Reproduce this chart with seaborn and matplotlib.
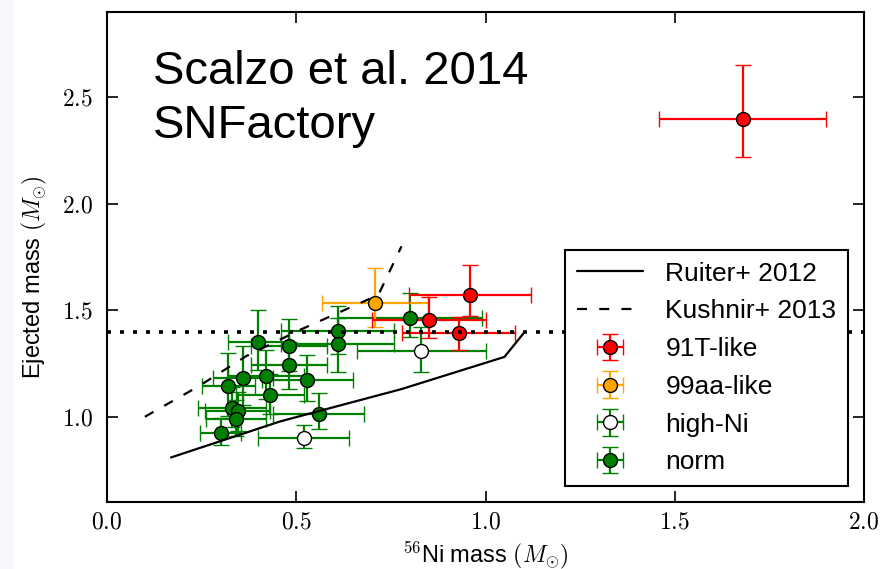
import matplotlib
matplotlib.use("Agg")
import matplotlib.pyplot as plt
import seaborn as sns
from matplotlib.ticker import FixedLocator, FuncFormatter
from matplotlib.patches import Rectangle

# ---- data -------------------------------------------------------------
# 91T-like
t91_x = [0.959, 0.850, 0.929, 1.679]
t91_y = [1.573, 1.453, 1.392, 2.400]
t91_xerr = [0.160, 0.150, 0.150, 0.220]
t91_yerr_lo = [0.100, 0.085, 0.080, 0.180]
t91_yerr_hi = [0.140, 0.110, 0.075, 0.250]

# 99aa-like
aa_x = [0.709]
aa_y = [1.533]
aa_xerr = [0.140]
aa_yerr_lo = [0.113]
aa_yerr_hi = [0.167]

# high-Ni
hn_x = [0.520, 0.830]
hn_y = [0.900, 1.311]
hn_xerr = [0.120, 0.170]
hn_yerr_lo = [0.047, 0.100]
hn_yerr_hi = [0.060, 0.110]

# normal
nm_x = [0.400, 0.480, 0.609, 0.609, 0.480, 0.359, 0.420, 0.320,
        0.529, 0.431, 0.331, 0.345, 0.341, 0.559, 0.300, 0.800]
nm_y = [1.350, 1.333, 1.403, 1.342, 1.242, 1.183, 1.192, 1.144,
        1.172, 1.103, 1.041, 1.025, 0.991, 1.013, 0.924, 1.463]
nm_xerr = [0.080, 0.100, 0.150, 0.150, 0.100, 0.080, 0.100, 0.070,
           0.120, 0.090, 0.090, 0.085, 0.080, 0.120, 0.055, 0.190]
nm_yerr_lo = [0.130, 0.120, 0.110, 0.130, 0.110, 0.130, 0.110, 0.140,
              0.100, 0.090, 0.090, 0.090, 0.080, 0.070, 0.055, 0.090]
nm_yerr_hi = [0.150, 0.127, 0.117, 0.120, 0.110, 0.147, 0.120, 0.157,
              0.118, 0.100, 0.100, 0.090, 0.090, 0.100, 0.070, 0.120]

# model curves
ruiter_x = [0.169, 0.457, 0.778, 1.050, 1.102]
ruiter_y = [0.809, 0.978, 1.130, 1.281, 1.395]
kushnir_x = [0.100, 0.241, 0.369, 0.510, 0.717, 0.778]
kushnir_y = [1.000, 1.142, 1.286, 1.408, 1.572, 1.800]

chandra = 1.4

x_ticks = [0.0, 0.5, 1.0, 1.5, 2.0]
y_ticks = [1.0, 1.5, 2.0, 2.5]

# ---- style ------------------------------------------------------------
sns.set_theme(style="white")
plt.rcParams["font.family"] = ["Liberation Sans", "DejaVu Sans"]
plt.rcParams["mathtext.fontset"] = "cm"
plt.rcParams["text.color"] = "black"
plt.rcParams["axes.labelcolor"] = "black"

fig = plt.figure(figsize=(8.91, 5.69), dpi=100)
fig.patch.set_facecolor("white")
fig.patches.append(Rectangle((0, 0), 14 / 891, 1, transform=fig.transFigure,
                             facecolor="#f6f7fb", edgecolor="none", zorder=-5))
ax = fig.add_axes([107 / 891, 67 / 569, 757 / 891, 490 / 569])
ax.set_facecolor("white")

common = dict(fmt="o", ms=10, mec="black", mew=1.0, elinewidth=1.6,
              capsize=5.5, capthick=1.6, zorder=3)

h_nm = ax.errorbar(nm_x, nm_y, xerr=nm_xerr, yerr=[nm_yerr_lo, nm_yerr_hi],
                   color="green", mfc="green", label="norm", **common)
h_hn = ax.errorbar(hn_x, hn_y, xerr=hn_xerr, yerr=[hn_yerr_lo, hn_yerr_hi],
                   color="green", mfc="white", label="high-Ni", **common)
h_aa = ax.errorbar(aa_x, aa_y, xerr=aa_xerr, yerr=[aa_yerr_lo, aa_yerr_hi],
                   color="orange", mfc="orange", label="99aa-like", **common)
h_91 = ax.errorbar(t91_x, t91_y, xerr=t91_xerr, yerr=[t91_yerr_lo, t91_yerr_hi],
                   color="red", mfc="red", label="91T-like", **common)

sns.lineplot(x=ruiter_x, y=ruiter_y, sort=False, estimator=None, color="black",
             lw=1.6, ax=ax, zorder=4)
sns.lineplot(x=kushnir_x, y=kushnir_y, sort=False, estimator=None, color="black",
             lw=1.6, ax=ax, zorder=4)
lines = ax.get_lines()
l_ruiter = lines[-2]
l_kushnir = lines[-1]
l_kushnir.set_dashes((4.5, 5.5))

ax.axhline(chandra, color="black", lw=2.6, dashes=(1.1, 2.5), zorder=4)

ax.set_xlim(0, 2.0)
ax.set_ylim(0.6, 2.9)
ax.xaxis.set_major_locator(FixedLocator(x_ticks))
ax.yaxis.set_major_locator(FixedLocator(y_ticks))
fmt = FuncFormatter(lambda v, p: f"${v:.1f}$")
ax.xaxis.set_major_formatter(fmt)
ax.yaxis.set_major_formatter(fmt)
ax.tick_params(axis="both", which="major", direction="in", length=8, width=1.2,
               color="black", top=True, right=True, bottom=True, left=True,
               labelsize=17, labelcolor="black")
ax.tick_params(axis="x", pad=7)
ax.tick_params(axis="y", pad=10)
for s in ax.spines.values():
    s.set_visible(True)
    s.set_color("black")
    s.set_linewidth(1.5)

ax.set_xlabel(r"$^{56}$Ni mass $(M_{\odot})$", fontsize=17, color="black", labelpad=4)
ax.set_ylabel(r"Ejected mass $(M_{\odot})$", fontsize=17, color="black")
ax.yaxis.set_label_coords(-0.076, 0.459)

ax.text(0.061, 0.922, "Scalzo et al. 2014\nSNFactory", transform=ax.transAxes,
        fontsize=34, ha="left", va="top", linespacing=1.3, color="black")

leg = ax.legend([l_ruiter, l_kushnir, h_91, h_aa, h_hn, h_nm],
                ["Ruiter+ 2012", "Kushnir+ 2013", "91T-like", "99aa-like",
                 "high-Ni", "norm"],
                loc="lower right", fontsize=19, frameon=True, fancybox=False,
                framealpha=1, edgecolor="black", handlelength=2.5,
                handletextpad=0.85, labelspacing=0.52, borderpad=0.45,
                borderaxespad=0.6)
leg.get_frame().set_linewidth(1.5)
leg.set_zorder(6)
for t in leg.get_texts():
    t.set_color("black")

fig.savefig("out.png", dpi=100)
